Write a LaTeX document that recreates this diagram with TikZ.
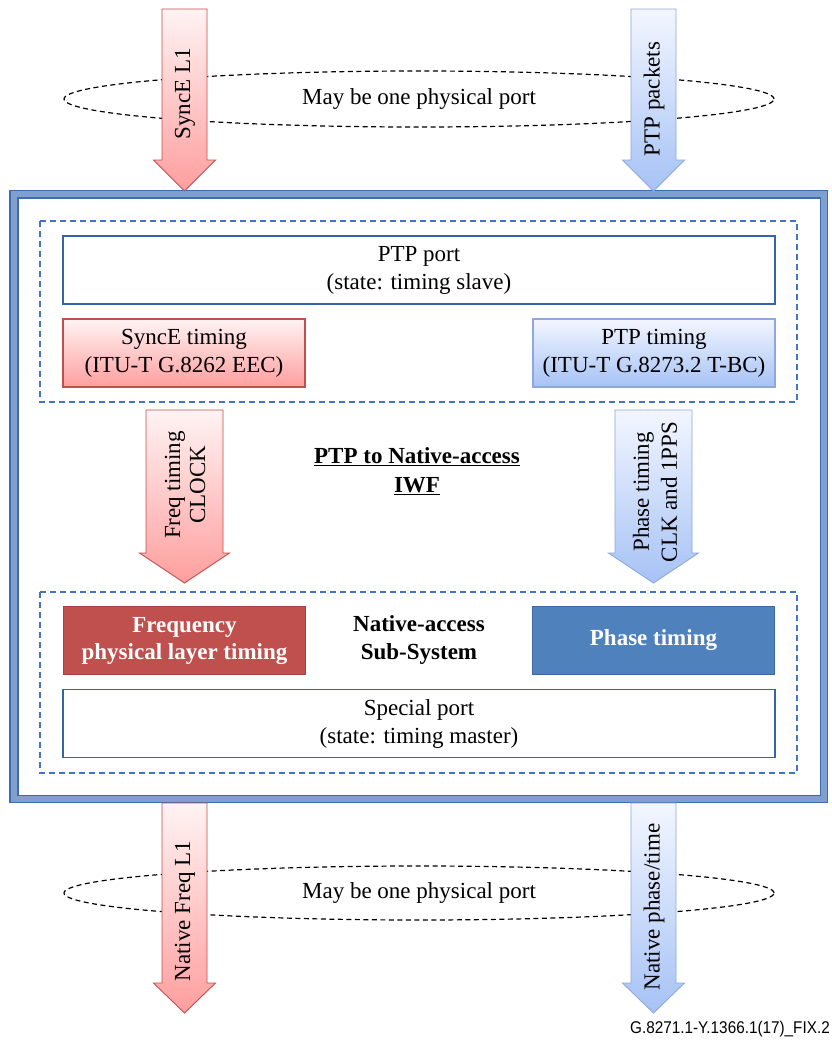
\documentclass[tikz,border=0pt]{standalone}
\usepackage{fontspec}
\setmainfont{Liberation Serif}
\newfontfamily\labfont{Liberation Sans}[FakeStretch=0.9]
\definecolor{redtop}{HTML}{FFF3F3}
\definecolor{redbot}{HTML}{FF9E9E}
\definecolor{redline}{HTML}{C0504D}
\definecolor{bluetop}{HTML}{F3F6FF}
\definecolor{bluebot}{HTML}{A6C2F5}
\definecolor{blueline}{HTML}{8EA8DB}
\definecolor{freqfill}{HTML}{C0504D}
\definecolor{freqline}{HTML}{A8423F}
\definecolor{phasefill}{HTML}{4F81BD}
\definecolor{phaseline}{HTML}{3A68A3}
\definecolor{dashblue}{HTML}{4472C4}
\definecolor{boxblue}{HTML}{3563AC}
\definecolor{outerband}{HTML}{7F9FCF}
\definecolor{outerline}{HTML}{3D6CB3}
\newcommand\blockarr[7]{%
  \path[#7] ({#1-#5},#2) -- ({#1+#5},#2) -- ({#1+#5},#3) -- ({#1+#6},#3)
    -- (#1,#4) -- ({#1-#6},#3) -- ({#1-#5},#3) -- cycle;}
\begin{document}
\begin{tikzpicture}[x=1pt,y=-1pt,
  font=\fontsize{23}{28}\selectfont,
  portbox/.style={draw=boxblue, line width=1.4pt, fill=white,
    minimum width=712pt, minimum height=68pt, align=center, inner sep=0pt},
  smallbox/.style={line width=1.2pt, minimum width=242pt,
    minimum height=68pt, align=center, inner sep=0pt},
  dashbox/.style={draw=dashblue, line width=1.5pt, dash pattern=on 6pt off 4pt},
  redarrow/.style={top color=redtop, bottom color=redbot, draw=redline, line width=0.9pt},
  bluearrow/.style={top color=bluetop, bottom color=bluebot, draw=blueline, line width=0.9pt},
  arrowtext/.style={rotate=90, align=center, inner sep=0pt},
  portell/.style={draw=black, line width=1.2pt, dash pattern=on 5pt off 3.5pt},
  boldtext/.style={font=\bfseries\fontsize{23}{28}\selectfont, align=center, inner sep=0pt}]
\useasboundingbox[fill=white] (0,0) rectangle (831,1042);

% ellipses (behind arrows)
\draw[portell] (419,99) ellipse [x radius=355pt, y radius=28pt];
\node (topport) at (419,99) {May be one physical port};
\draw[portell] (419,893) ellipse [x radius=355pt, y radius=27pt];
\node (botport) at (419,893) {May be one physical port};

% outer system box
\draw[outerband, line width=8.5pt, fill=white] (13.5,194) rectangle (824,799);
\draw[outerline, line width=1.5pt] (9.75,190.25) rectangle (827.5,802.5);
\draw[outerline, line width=1.5pt] (17.75,197.75) rectangle (820.25,795.25);

% dashed sub-system boxes
\draw[dashbox] (40,221) rectangle (797,402);
\draw[dashbox] (40,592) rectangle (797,773);

% upper content
\node[portbox] (ptpport) at (419,270) {PTP port\\(state: timing slave)};
\node[smallbox, top color=redtop, bottom color=redbot, draw=redline] (synce) at (184,353)
  {SyncE timing\\(ITU-T G.8262 EEC)};
\node[smallbox, top color=bluetop, bottom color=bluebot, draw=blueline] (ptptiming) at (654,353)
  {PTP timing\\(ITU-T G.8273.2 T-BC)};

% lower content
\node[smallbox, fill=freqfill, draw=freqline, text=white,
  font=\bfseries\fontsize{23}{27}\selectfont] (freqbox) at (184.5,640.5)
  {Frequency\\physical layer timing};
\node[smallbox, fill=phasefill, draw=phaseline, text=white,
  font=\bfseries\fontsize{23}{27}\selectfont] (phasebox) at (653.5,640.5) {Phase timing};
\node[boldtext] (nass) at (419,640) {Native-access\\Sub-System};
\node[portbox] (special) at (419,723.5) {Special port\\(state: timing master)};

% IWF label
\node[boldtext, font=\bfseries\fontsize{23}{29}\selectfont] (iwf) at (417,471)
  {\underline{PTP to Native-access}\\\underline{IWF}};

% block arrows
\blockarr{184.5}{9}{160}{191}{22.5}{31}{redarrow}
\blockarr{653.5}{9}{160}{191}{22.5}{31}{bluearrow}
\blockarr{184.5}{410}{553}{583}{38.5}{45}{redarrow}
\blockarr{653.5}{410}{553}{583}{38.5}{45}{bluearrow}
\blockarr{184.5}{803}{983}{1013}{22.5}{31}{redarrow}
\blockarr{653.5}{803}{983}{1013}{22.5}{31}{bluearrow}

% arrow labels
\node[arrowtext] (l1) at (185,94) {SyncE L1};
\node[arrowtext] (pkts) at (654,99) {PTP packets};
\node[arrowtext, font=\fontsize{23}{25}\selectfont] (freqclk) at (185,485) {Freq timing\\CLOCK};
\node[arrowtext, font=\fontsize{23}{28}\selectfont] (phaseclk) at (655,492) {Phase timing\\CLK and 1PPS};
\node[arrowtext] (nfreq) at (185,911) {Native Freq L1};
\node[arrowtext] (nphase) at (654,907) {Native phase/time};

% figure id
\node[anchor=east, inner sep=0pt, font=\labfont\fontsize{17}{20}\selectfont] (figid) at (830,1029)
  {G.8271.1-Y.1366.1(17)\_FIX.2};
\end{tikzpicture}
\end{document}
